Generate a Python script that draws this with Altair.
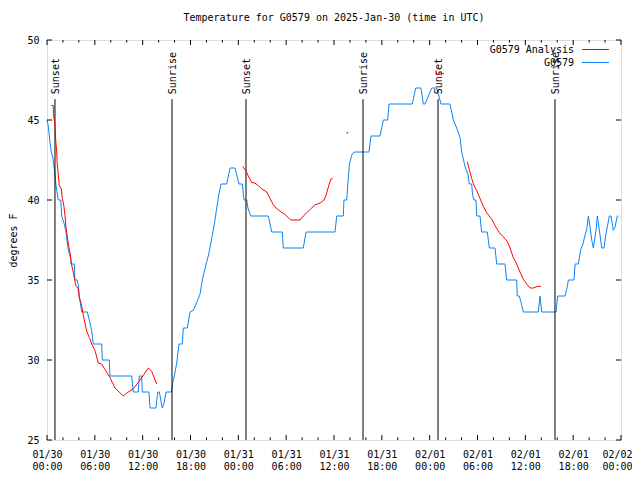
import altair as alt
import pandas as pd

# ---------------- data (hours since 2025-01-30 00:00 UTC, degrees F) ----------------
blue_hours = [0.00, 0.17, 0.38, 0.54, 0.75, 1.00, 1.13, 1.42, 1.72, 1.85, 2.10, 2.35, 2.50, 2.67, 2.97,
              3.01, 3.42, 3.51, 3.80, 3.93, 4.05, 4.35, 5.06, 5.31, 5.61, 5.81, 6.86, 6.94, 7.81, 7.90,
              10.62, 10.83, 11.45, 11.58, 11.88, 11.95, 12.79, 12.92, 13.67, 13.89, 14.09, 14.46, 14.68,
              14.93, 15.64, 15.77, 15.97, 16.27, 16.56, 16.97, 17.10, 17.60, 17.94, 18.35, 18.78, 19.19,
              19.48, 19.91, 20.23, 20.44, 20.66, 20.99, 21.29, 21.58, 21.83, 22.54, 22.96, 23.58, 24.08,
              24.50, 24.71, 25.05, 25.20, 25.55, 27.76, 28.19, 29.52, 29.64, 32.15, 32.49, 36.13, 36.34,
              37.17, 37.25, 37.59, 37.92, 38.22, 38.51, 40.39, 40.64, 41.77, 42.19, 42.74, 42.90, 45.82,
              46.25, 46.91, 47.20, 47.42, 48.26, 48.88, 49.42, 50.55, 50.97, 51.39, 51.81, 52.02, 52.43,
              52.85, 52.97, 53.27, 53.39, 53.56, 53.81, 53.90, 54.31, 54.52, 55.23, 55.48, 56.20, 56.41,
              57.45, 57.66, 58.92, 58.99, 59.24, 59.46, 59.75, 61.63, 61.84, 62.05, 63.85, 64.06, 64.98,
              65.27, 65.40, 66.11, 66.24, 66.65, 66.95, 67.20, 67.49, 67.71, 67.91, 68.12, 68.33, 68.53,
              68.87, 69.03, 69.37, 69.58, 69.87, 70.12, 70.54, 70.75, 71.03, 71.25, 71.53, 71.66]
blue_temps = [45.0, 44.6, 43.6, 43.0, 42.6, 41.6, 40.9, 40.0, 40.0, 39.0, 38.6, 38.1, 37.5, 36.9, 36.35,
              36.0, 36.0, 35.0, 35.0, 34.7, 34.0, 33.0, 33.0, 32.5, 31.8, 31.0, 31.0, 30.0, 30.0, 29.0,
              29.0, 28.0, 28.0, 29.0, 29.0, 28.0, 28.0, 27.0, 27.0, 28.0, 28.0, 27.0, 27.3,
              28.0, 28.0, 28.6, 29.0, 29.8, 31.0, 31.0, 32.0, 32.0, 33.0, 33.1, 33.6, 34.1,
              35.0, 35.9, 36.5, 37.0, 37.6, 38.5, 39.5, 40.4, 41.0, 41.0, 42.0, 42.0, 41.0,
              41.0, 40.0, 40.0, 39.5, 39.0, 39.0, 38.0, 38.0, 37.0, 37.0, 38.0, 38.0, 39.0,
              39.0, 40.0, 40.0, 42.2, 42.8, 43.0, 43.0, 44.0, 44.0, 45.0, 45.0, 46.0, 46.0,
              47.0, 47.0, 46.0, 46.0, 47.0, 47.0, 46.0, 46.0, 45.0, 44.5, 43.9, 43.0, 42.1,
              41.5, 41.0, 41.0, 40.3, 40.0, 40.0, 39.0, 39.0, 38.0, 38.0, 37.0, 37.0, 36.0,
              36.0, 35.0, 35.0, 34.0, 34.0, 33.6, 33.0, 33.0, 34.0, 33.0, 33.0, 34.0, 34.0,
              34.6, 35.0, 35.0, 36.0, 36.0, 36.9, 37.2, 37.8, 38.2, 39.0, 38.3, 37.5, 37.0,
              38.1, 39.0, 37.8, 37.0, 37.0, 37.9, 39.0, 39.0, 38.1, 38.3, 39.0, 39.0]

red1_hours = [0.54, 0.79, 0.80, 1.00, 1.09, 1.22, 1.29, 1.42, 1.54, 1.79, 1.92, 2.13, 2.26, 2.38, 2.55,
              2.72, 2.89, 3.07, 3.30, 3.51, 3.64, 3.89, 4.05, 4.35, 4.55, 4.77, 4.98, 5.31, 5.61, 6.02,
              6.44, 6.86, 7.28, 7.90, 8.53, 9.57, 10.07, 10.83, 11.67, 12.71, 13.13, 13.76]
red1_temps = [45.9, 45.9, 45.4, 44.7, 43.75, 43.0, 42.2, 41.6, 40.9, 40.7, 40.1, 39.6, 39.0, 38.3, 37.7,
              37.1, 36.7, 36.0, 35.45, 34.9, 34.6, 34.5, 33.9, 33.4, 32.8, 32.3, 31.8, 31.4, 31.0, 30.6,
              29.8, 29.75, 29.4, 28.9, 28.25, 27.75, 27.96, 28.2, 28.75, 29.5, 29.3, 28.5]
red2_hours = [24.55, 24.96, 25.25, 25.68, 26.09, 26.51, 26.93, 27.56, 27.97, 28.39, 28.73, 29.23, 29.85,
              30.27, 30.57, 31.74, 32.15, 32.58, 32.99, 33.62, 34.24, 34.75, 35.00, 35.29, 35.59, 35.84]
red2_temps = [42.1, 41.8, 41.5, 41.1, 41.05, 40.9, 40.7, 40.5, 40.1, 39.7, 39.5, 39.3, 39.1,
              38.9, 38.75, 38.75, 39.0, 39.2, 39.4, 39.7, 39.8, 40.0, 40.3, 40.8, 41.3, 41.35]
red3_hours = [48.78, 48.80, 49.80]
red3_temps = [48.1, 47.85, 47.9]
red4_hours = [52.72, 52.97, 53.27, 53.56, 53.90, 54.31, 54.73, 55.16, 55.78, 56.20, 56.74, 57.24, 57.74,
              58.08, 58.49, 58.92, 59.33, 59.75, 60.17, 60.59, 61.00, 61.50, 61.93]
red4_temps = [42.4, 41.9, 41.35, 40.9, 40.6, 40.1, 39.6, 39.2, 38.8, 38.4, 37.95, 37.7, 37.4,
              37.0, 36.4, 36.0, 35.5, 35.05, 34.75, 34.5, 34.5, 34.6, 34.6]
red_dot_hours = [37.67]
red_dot_temps = [44.2]

sun_hours = [1.0, 15.68, 24.96, 39.64, 49.05, 63.72]
sun_labels = ["Sunset", "Sunrise", "Sunset", "Sunrise", "Sunset", "Sunrise"]

tick_dates = ["01/30", "01/30", "01/30", "01/30", "01/31", "01/31", "01/31", "01/31",
              "02/01", "02/01", "02/01", "02/01", "02/02"]
tick_times = ["00:00", "06:00", "12:00", "18:00", "00:00", "06:00", "12:00", "18:00",
              "00:00", "06:00", "12:00", "18:00", "00:00"]
major_hours = [0, 6, 12, 18, 24, 30, 36, 42, 48, 54, 60, 66, 72]
minor_hours = [0, 2, 4, 6, 8, 10, 12, 14, 16, 18, 20, 22, 24, 26, 28, 30, 32, 34, 36, 38, 40, 42, 44,
               46, 48, 50, 52, 54, 56, 58, 60, 62, 64, 66, 68, 70, 72]
y_ticks = [25, 30, 35, 40, 45, 50]

legend_names = ["G0579 Analysis", "G0579"]
legend_colors = ["#ff0000", "#0a84f7"]

title_text = "Temperature for G0579 on 2025-Jan-30 (time in UTC)"

# ---------------- build ----------------
FONT = "DejaVu Sans Mono"
W, H = 574, 400
RED, BLUE = "#ff0000", "#0a84f7"

xs = alt.Scale(domain=[0, 72], nice=False, zero=False)
ys = alt.Scale(domain=[25, 50], nice=False, zero=False)

blue_df = pd.DataFrame({"hour": blue_hours, "temp": blue_temps, "i": range(len(blue_hours))})
red_parts = []
for k, (hh, tt) in enumerate([(red1_hours, red1_temps), (red2_hours, red2_temps),
                              (red3_hours, red3_temps), (red4_hours, red4_temps)]):
    red_parts.append(pd.DataFrame({"hour": hh, "temp": tt, "seg": k, "i": range(len(hh))}))
red_df = pd.concat(red_parts, ignore_index=True)
dot_df = pd.DataFrame({"hour": red_dot_hours, "temp": red_dot_temps})
sun_df = pd.DataFrame({"hour": sun_hours, "label": sun_labels})

label_expr = "[" + ",".join(f"['{d}','{t}']" for d, t in zip(tick_dates, tick_times)) + "][round(datum.value/6)]"

x_axis = alt.Axis(values=major_hours, labelExpr=label_expr, ticks=False, domain=False, grid=False,
                  labelPadding=9, labelLineHeight=12, labelFont=FONT, labelFontSize=10,
                  labelColor="black", labelFlush=False, labelOverlap=False, labelAngle=0, title="",
                  labelOffset={"condition": {"test": "datum.value >= 72", "value": -4}, "value": 0})
y_axis = alt.Axis(values=y_ticks, ticks=False, domain=False, grid=False, labelPadding=8,
                  labelFont=FONT, labelFontSize=10, labelColor="black", labelFlush=False,
                  title="degrees F", titleFont=FONT, titleFontSize=10, titleFontWeight="normal",
                  titleColor="black", titlePadding=8)


def X(field):
    return alt.X(field, scale=xs, axis=x_axis, title="")


def Y(field):
    return alt.Y(field, scale=ys, axis=y_axis, title="degrees F")


blue_line = alt.Chart(blue_df).mark_line(color=BLUE, strokeWidth=1).encode(
    x=X("hour:Q"), y=Y("temp:Q"), order="i:Q")
red_line = alt.Chart(red_df).mark_line(color=RED, strokeWidth=1).encode(
    x=X("hour:Q"), y=Y("temp:Q"), detail="seg:N", order="i:Q")
red_dot = alt.Chart(dot_df).mark_square(color=RED, size=2, opacity=1).encode(
    x=X("hour:Q"), y=Y("temp:Q"))

SUN_TOP = 46.3
sun_df["top"] = SUN_TOP
sun_df["bottom"] = 25.0
sun_rule = alt.Chart(sun_df).mark_rule(color="black", strokeWidth=1).encode(
    x=X("hour:Q"), y=Y("top:Q"), y2="bottom:Q")
sun_text = alt.Chart(sun_df).mark_text(angle=270, align="left", baseline="middle", dx=5, dy=1,
                                       font=FONT, fontSize=10, color="black").encode(
    x=X("hour:Q"), y=Y("top:Q"), text="label:N")

# inward tick marks (gnuplot style)
xt = pd.DataFrame({"h": minor_hours})
xt["L"] = [0.3125 if h in major_hours else 0.16 for h in minor_hours]
xt["yb0"] = 25.0
xt["yb1"] = 25.0 + xt["L"]
xt["yt0"] = 50.0
xt["yt1"] = 50.0 - xt["L"]
hl = 5 * 72 / W
yt = pd.DataFrame({"v": y_ticks})
yt["xl0"] = 0.0
yt["xl1"] = hl
yt["xr0"] = 72.0
yt["xr1"] = 72.0 - hl

tick_b = alt.Chart(xt).mark_rule(color="black").encode(x=X("h:Q"), y=Y("yb0:Q"), y2="yb1:Q")
tick_t = alt.Chart(xt).mark_rule(color="black").encode(x=X("h:Q"), y=Y("yt0:Q"), y2="yt1:Q")
tick_l = alt.Chart(yt).mark_rule(color="black").encode(x=X("xl0:Q"), x2="xl1:Q", y=Y("v:Q"))
tick_r = alt.Chart(yt).mark_rule(color="black").encode(x=X("xr0:Q"), x2="xr1:Q", y=Y("v:Q"))

legend_layers = []
for i, (name, color) in enumerate(zip(legend_names, legend_colors)):
    ly = 9.5 + 13 * i
    legend_layers.append(
        alt.Chart(pd.DataFrame({"t": [name]})).mark_text(
            align="right", baseline="middle", font=FONT, fontSize=10, color="black"
        ).encode(x=alt.value(527), y=alt.value(ly), text="t:N")
    )
    legend_layers.append(
        alt.Chart(pd.DataFrame({"t": [name]})).mark_rule(color=color, strokeWidth=1).encode(
            x=alt.value(535), x2=alt.value(562), y=alt.value(ly))
    )

chart = alt.layer(
    blue_line, sun_rule, sun_text, red_line, red_dot, tick_b, tick_t, tick_l, tick_r, *legend_layers
).properties(
    width=W, height=H,
    title=alt.TitleParams(title_text, font=FONT, fontSize=10, fontWeight="normal", color="black",
                          anchor="middle", frame="group", offset=12),
    autosize=alt.AutoSizeParams(type="none"),
    padding={"left": 39, "top": 32, "right": 11, "bottom": 32},
).configure_view(stroke="black", strokeWidth=1).configure(background="white")

chart.save("out.html", embed_options={"renderer": "svg", "actions": False})
